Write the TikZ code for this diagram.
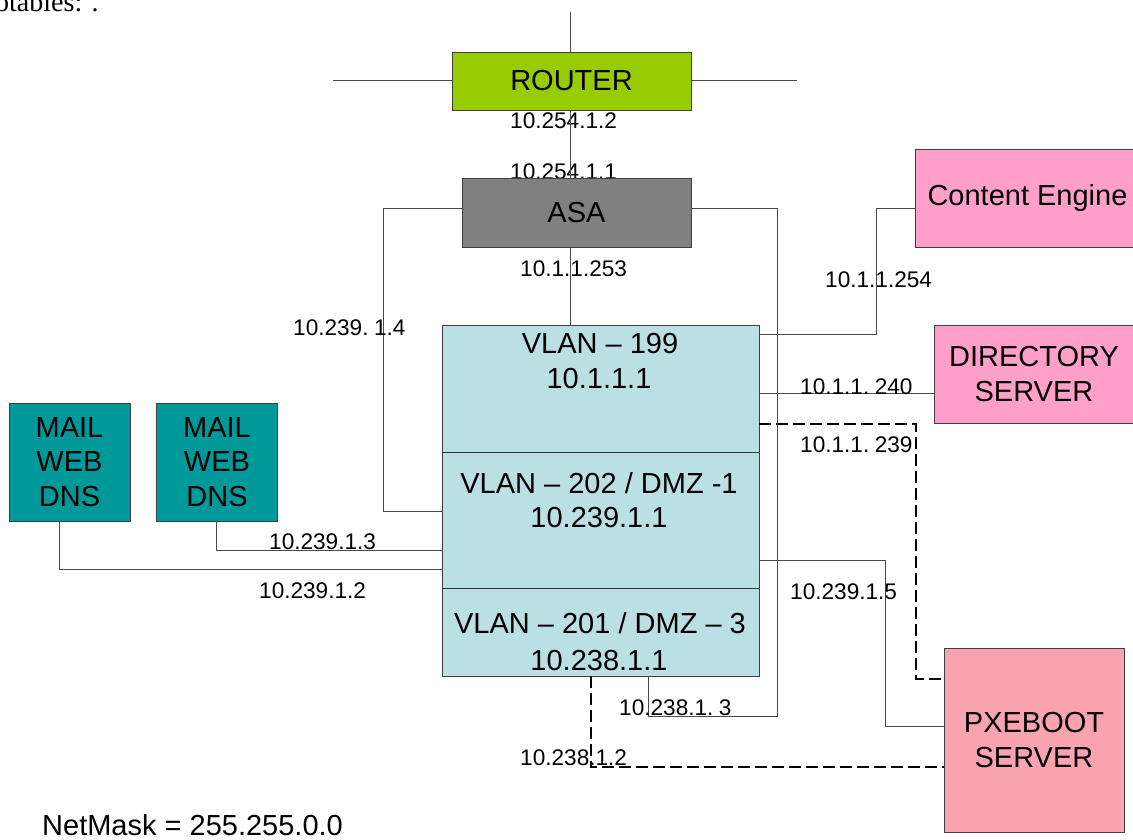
\documentclass[tikz,border=0pt]{standalone}
\usepackage{fontspec}
\setmainfont{Liberation Sans}
\newfontfamily\serifx{Liberation Serif}
\newcommand\bigtxt{\fontsize{29}{34.5}\selectfont}
\newcommand\lbltxt{\fontsize{22.6}{27}\selectfont\spaceskip=0.15em\relax}
\definecolor{routerg}{HTML}{99CC00}
\definecolor{asag}{HTML}{808080}
\definecolor{vlanc}{HTML}{BBE0E3}
\definecolor{mailc}{HTML}{009999}
\definecolor{pinkc}{HTML}{FF9FCA}
\definecolor{pxec}{HTML}{FAA3B0}
\definecolor{bordc}{HTML}{404040}
\definecolor{wirec}{HTML}{4A4A4A}
\tikzset{
  box/.style={draw=bordc, line width=0.9pt, inner sep=0pt, align=center, font=\bigtxt},
  lbl/.style={inner sep=0pt, font=\lbltxt, anchor=base west},
  bigl/.style={inner sep=0pt, font=\bigtxt, anchor=base},
  wire/.style={draw=wirec, line width=0.9pt},
  dwire/.style={draw=black, line width=2.6pt, dash pattern=on 12pt off 5pt},
}
\begin{document}
\begin{tikzpicture}[x=1pt,y=-1pt]
\useasboundingbox (0,0) rectangle (1133,840);
% free ends and corners
\coordinate (rtop) at (570,12);
\coordinate (rleft) at (333,80);
\coordinate (rright) at (797,80);
\coordinate (a1) at (383,511);
\coordinate (a2) at (777,716);
\coordinate (a3) at (648,716);
\coordinate (c4) at (876,334);
\coordinate (d1) at (916,424);
\coordinate (d2) at (916,679);
\coordinate (p1) at (885,560);
\coordinate (p2) at (885,726);
\coordinate (b1) at (591,767);
\coordinate (m2) at (216,550);
\coordinate (m1) at (59,569);
\path (571.5,81) coordinate (routerc) (576.5,212.5) coordinate (asac);
\node[box, fill=routerg, minimum width=239pt, minimum height=58pt] (router) at (routerc) {ROUTER};
\draw[wire] (rtop) -- (rtop |- router.north);
\draw[wire] (rleft) -- (rleft -| router.west);
\draw[wire] (rright -| router.east) -- (rright);
% labels drawn before ASA so that the box covers 10.254.1.1
\node[lbl] (l1) at (510,129) {10.254.1.2};
\node[lbl] (l2) at (510,179) {10.254.1.1};
\draw[wire] (rtop |- router.south) -- (rtop |- 0,178);
\node[box, fill=asag, minimum width=229pt, minimum height=69pt] (asa) at (asac) {ASA};
\node[box, fill=vlanc, minimum width=317pt, minimum height=351pt] (vlan) at (600.5,500.5) {};
\node[box, fill=mailc, minimum width=121pt, minimum height=118pt] (mail1) at (69.5,462) {MAIL\\WEB\\DNS};
\node[box, fill=mailc, minimum width=121pt, minimum height=118pt] (mail2) at (217,462) {MAIL\\WEB\\DNS};
\node[box, fill=pinkc, minimum width=225pt, minimum height=98pt] (ce) at (1027.5,198) {Content Engine};
\node[box, fill=pinkc, minimum width=200pt, minimum height=98pt] (dir) at (1034,374) {DIRECTORY\\SERVER};
\node[box, fill=pxec, minimum width=180pt, minimum height=184pt] (pxe) at (1034,740) {PXEBOOT\\SERVER};
% vlan dividers
\draw[wire, draw=black!80] (vlan.west |- 0,452) -- (vlan.east |- 0,452);
\draw[wire, draw=black!80] (vlan.west |- 0,588) -- (vlan.east |- 0,588);
% vlan texts
\node[bigl] (v1a) at (600,353) {VLAN – 199};
\node[bigl] (v1b) at (599,388) {10.1.1.1};
\node[bigl] (v2a) at (599,493) {VLAN – 202 / DMZ -1};
\node[bigl] (v2b) at (599,527) {10.239.1.1};
\node[bigl] (v3a) at (600,633) {VLAN – 201 / DMZ – 3};
\node[bigl] (v3b) at (599,670) {10.238.1.1};
% connectors
\draw[wire] (rtop |- asa.south) -- (rtop |- vlan.north);
\draw[wire] ([yshift=4.5pt]asa.west) -| (a1) -- (a1 -| vlan.west);
\draw[wire] ([yshift=4.5pt]asa.east) -| (a2) -- (a3) -- (a3 |- vlan.south);
\draw[wire] ([yshift=-10pt]ce.west) -| (c4) -- (c4 -| vlan.east);
\draw[wire] ([yshift=-19pt]dir.west) -- ([yshift=-19pt]dir.west -| vlan.east);
\draw[dwire] (d1 -| vlan.east) -- (d1) -- (d2) -- (d2 -| pxe.west);
\draw[wire] (p1 -| vlan.east) -- (p1) -- (p2) -- (p2 -| pxe.west);
\draw[dwire] (b1 |- vlan.south) -- (b1) -- (b1 -| pxe.west);
\draw[wire] (m2 |- mail2.south) -- (m2) -- (m2 -| vlan.west);
\draw[wire] (m1 |- mail1.south) -- (m1) -- (m1 -| vlan.west);
% labels
\node[lbl] (l3) at (520,276) {10.1.1.253};
\node[lbl] (l4) at (825,287) {10.1.1.254};
\node[lbl] (l5) at (800,394) {10.1.1. 240};
\node[lbl] (l6) at (800,452) {10.1.1. 239};
\node[lbl] (l7) at (790,599) {10.239.1.5};
\node[lbl] (l8) at (619,715) {10.238.1. 3};
\node[lbl] (l9) at (520,765) {10.238.1.2};
\node[lbl] (l10) at (269,549) {10.239.1.3};
\node[lbl] (l11) at (259,598) {10.239.1.2};
\node[lbl] (l12) at (293,335) {10.239. 1.4};
\node[inner sep=0pt, font=\bigtxt, anchor=base west] (nm) at (42,835) {NetMask = 255.255.0.0};
\node[inner sep=0pt, font=\serifx\fontsize{28}{32}\selectfont, anchor=base west] (top) at (-5,12) {otables: .};
\end{tikzpicture}
\end{document}
